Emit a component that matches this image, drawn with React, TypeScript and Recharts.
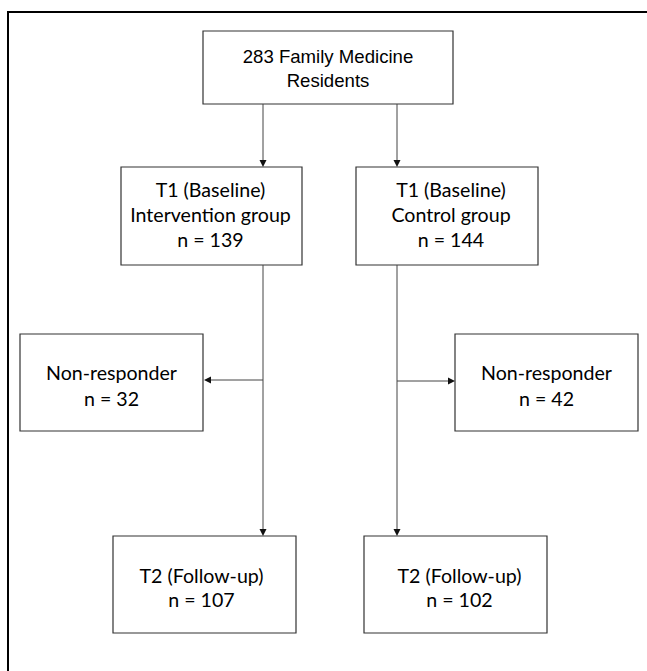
import { ReferenceArea, ReferenceLine, Scatter, ScatterChart, XAxis, YAxis } from 'recharts';

const W = 647;
const H = 671;

// flow values
const totalResidents = 283;
const stageNames = ['T1 (Baseline)', 'T2 (Follow-up)'];
const groupNames = ['Intervention group', 'Control group'];
const baselineCounts = [139, 144];
const nonResponderCounts = [32, 42];
const followUpCounts = [107, 102];

// layout (page pixels, y grows downwards)
const colX = [263, 397];
const topBox = { x1: 203, x2: 453, y1: 31, y2: 104 };
const t1Boxes = [
  { x1: 121, x2: 302, y1: 167, y2: 265, dx: -1 },
  { x1: 356, x2: 538, y1: 167, y2: 265, dx: 4 },
];
const nrBoxes = [
  { x1: 20, x2: 203, y1: 334, y2: 431, dx: 0 },
  { x1: 455, x2: 638, y1: 334, y2: 431, dx: 0 },
];
const t2Boxes = [
  { x1: 113, x2: 296, y1: 536, y2: 633, dx: -3 },
  { x1: 364, x2: 547, y1: 536, y2: 633, dx: 4 },
];
const branchY = [380, 381];

const BODY_FONT = 'Lato, "DejaVu Sans", sans-serif';

type Box = { x1: number; x2: number; y1: number; y2: number; dx?: number };

const boxText = (lines: string[], first: number, step: number, dx = 0, family = BODY_FONT, size = 19.6) =>
  (props: any) => {
    const vb = props.viewBox || {};
    const cx = vb.x + vb.width / 2 + dx;
    return (
      <text textAnchor="middle" fontFamily={family} fontSize={size} fill="#000">
        {lines.map((l, i) => (
          <tspan key={i} x={cx} y={vb.y + first + i * step}>
            {l}
          </tspan>
        ))}
      </text>
    );
  };

const arrowTips = [
  { x: colX[0], y: t1Boxes[0].y1, dir: 'down' },
  { x: colX[1], y: t1Boxes[1].y1, dir: 'down' },
  { x: nrBoxes[0].x2 + 1, y: branchY[0], dir: 'left' },
  { x: nrBoxes[1].x1, y: branchY[1], dir: 'right' },
  { x: colX[0], y: t2Boxes[0].y1, dir: 'down' },
  { x: colX[1], y: t2Boxes[1].y1, dir: 'down' },
];

const Arrow = (props: any) => {
  const { cx, cy, payload } = props;
  const L = 7;
  const h = 3.5;
  let pts = '';
  if (payload.dir === 'down') pts = `${cx},${cy} ${cx - h},${cy - L} ${cx + h},${cy - L}`;
  if (payload.dir === 'left') pts = `${cx},${cy} ${cx + L},${cy - h} ${cx + L},${cy + h}`;
  if (payload.dir === 'right') pts = `${cx},${cy} ${cx - L},${cy - h} ${cx - L},${cy + h}`;
  return <polygon points={pts} fill="#111" />;
};

const box = (b: Box, key: string, lines: string[], first: number, step: number, family?: string, size?: number) => (
  <ReferenceArea
    key={key}
    x1={b.x1}
    x2={b.x2}
    y1={b.y1}
    y2={b.y2}
    fill="#fff"
    fillOpacity={1}
    stroke="#333"
    strokeWidth={1.2}
    ifOverflow="visible"
    label={{ content: boxText(lines, first, step, b.dx || 0, family, size) }}
  />
);

const seg = (key: string, x1: number, y1: number, x2: number, y2: number, w = 1, color = '#444') => (
  <ReferenceLine
    key={key}
    segment={[
      { x: x1, y: y1 },
      { x: x2, y: y2 },
    ]}
    stroke={color}
    strokeWidth={w}
    ifOverflow="visible"
  />
);

export default function App() {
  return (
    <div style={{ position: 'absolute', left: 0, top: 0, width: W, height: H, background: '#fff' }}>
      <ScatterChart width={W} height={H} margin={{ top: 0, right: 0, bottom: 0, left: 0 }}>
        <XAxis type="number" dataKey="x" domain={[0, W]} hide />
        <YAxis type="number" dataKey="y" domain={[0, H]} reversed hide />

        {/* outer frame, only top and left edges are in view */}
        {seg('frame-top', 7, 12, W, 12, 2, '#000')}
        {seg('frame-left', 8, 11, 8, H, 2, '#000')}

        {/* connectors */}
        {colX.map((x, i) => seg(`v1-${i}`, x, topBox.y2, x, t1Boxes[i].y1 - 6))}
        {colX.map((x, i) => seg(`v2-${i}`, x, t1Boxes[i].y2, x, t2Boxes[i].y1 - 6))}
        {seg('h-0', colX[0], branchY[0], nrBoxes[0].x2 + 7, branchY[0])}
        {seg('h-1', colX[1], branchY[1], nrBoxes[1].x1 - 6, branchY[1])}

        {box(topBox, 'top', [`${totalResidents} Family Medicine`, 'Residents'], 32, 24, '"Liberation Sans", Arial, sans-serif', 18.6)}
        {t1Boxes.map((b, i) => box(b, `t1-${i}`, [stageNames[0], groupNames[i], `n = ${baselineCounts[i]}`], 30, 25))}
        {nrBoxes.map((b, i) => box(b, `nr-${i}`, ['Non-responder', `n = ${nonResponderCounts[i]}`], 46, 26))}
        {t2Boxes.map((b, i) => box(b, `t2-${i}`, [stageNames[1], `n = ${followUpCounts[i]}`], 47, 24))}

        <Scatter data={arrowTips} shape={Arrow} isAnimationActive={false} />
      </ScatterChart>
    </div>
  );
}
